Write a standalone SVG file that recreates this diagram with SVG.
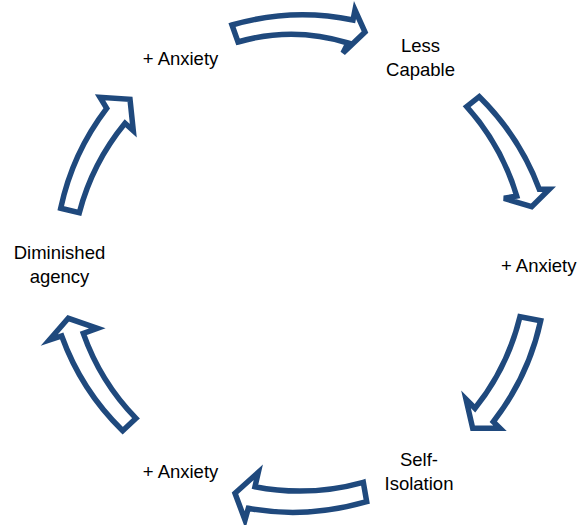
<svg xmlns="http://www.w3.org/2000/svg" width="579" height="525" viewBox="0 0 579 525">
<style>
.arr{fill:#ffffff;stroke:#1F497D;stroke-width:5.5;stroke-linejoin:miter}
.lbl{font-family:"Liberation Sans",Arial,sans-serif;font-size:18.5px;fill:#000000;text-anchor:middle}
</style>
<rect width="579" height="525" fill="#ffffff"/>
<g id="connectors">
<path id="arrow1" class="arr" d="M232 25 Q292 7.5 353 20 L355 10 L365 32 L343 53 L348 43 Q293 26 238 42 Z"/>
<path id="arrow2" class="arr" d="M466.7 106.7 L479.3 96.7 Q519.5 136.4 539.3 189.3 L549.3 189.3 L531.7 206.7 L504 198.3 L516.7 196 Q501.7 145.8 466.7 106.7 Z"/>
<path id="arrow3" class="arr" d="M520 316.7 L540.7 320.7 Q528.5 376.6 493.3 421.7 L500 428.3 L472.7 428.3 L466 399.3 L475 408.3 Q507.7 367.5 520 316.7 Z"/>
<path id="arrow4" class="arr" d="M363.3 482.3 L366.7 501.7 Q306 519 248.3 508.3 L245 520 L235 493.3 L258.3 472.3 L255 486.7 Q309 497.3 363.3 482.3 Z"/>
<path id="arrow5" class="arr" d="M136 418.3 L122.7 430.7 Q81.3 390.4 61.7 336 L49.3 340 L68.3 318.3 L97.3 328.3 L83.3 333.3 Q100.4 381.8 136 418.3 Z"/>
<path id="arrow6" class="arr" d="M60.7 208.3 L79.3 212.7 Q92.4 163 125 123.3 L133.3 130.7 L130 99.3 L100 97.3 L106.7 108.3 Q72.4 153.1 60.7 208.3 Z"/>
</g>
<g id="node-anxiety1"><text class="lbl" x="180.5" y="65">+ Anxiety</text></g>
<g id="node-less-capable"><text class="lbl" x="420.5" y="52">Less</text><text class="lbl" x="420.5" y="76">Capable</text></g>
<g id="node-anxiety2"><text class="lbl" x="538.7" y="272">+ Anxiety</text></g>
<g id="node-self-isolation"><text class="lbl" x="419" y="466">Self-</text><text class="lbl" x="419" y="490">Isolation</text></g>
<g id="node-anxiety3"><text class="lbl" x="180.5" y="478">+ Anxiety</text></g>
<g id="node-diminished-agency"><text class="lbl" x="59.5" y="259">Diminished</text><text class="lbl" x="59.5" y="283">agency</text></g>
</svg>
